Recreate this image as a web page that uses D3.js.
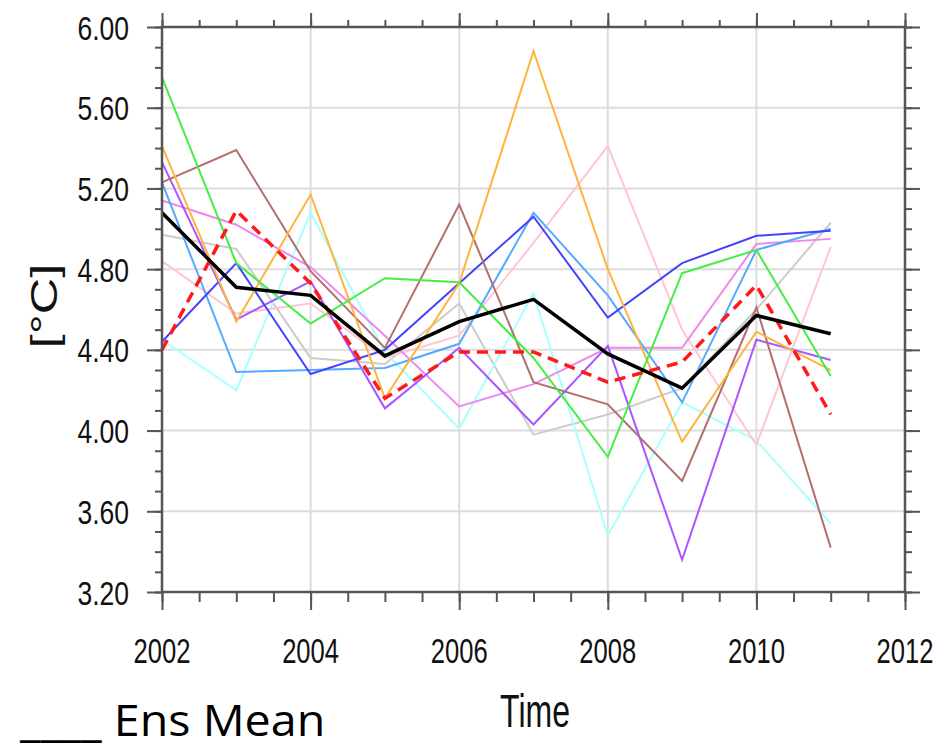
<!DOCTYPE html>
<html>
<head>
<meta charset="utf-8">
<script src="https://cdn.jsdelivr.net/npm/d3@7"></script>
<style>
  html, body { margin: 0; padding: 0; background: #fff; }
  svg { display: block; }
</style>
</head>
<body>
<svg id="chart" width="950" height="752"></svg>
<script>
// ---------------- data ----------------
const years = [2002, 2003, 2004, 2005, 2006, 2007, 2008, 2009, 2010, 2011];
const xTicks = [2002, 2004, 2006, 2008, 2010, 2012];
const yTicks = [3.2, 3.6, 4.0, 4.4, 4.8, 5.2, 5.6, 6.0];

const memberGreen     = [5.75, 4.83, 4.53, 4.755, 4.735, 4.36, 3.87, 4.78, 4.895, 4.27];
const memberOrange    = [5.41, 4.54, 5.17, 4.16, 4.73, 5.88, 4.80, 3.945, 4.49, 4.30];
const memberBrown     = [5.23, 5.39, 4.79, 4.41, 5.12, 4.24, 4.13, 3.75, 4.61, 3.42];
const memberBlue      = [4.44, 4.83, 4.28, 4.40, 4.73, 5.06, 4.56, 4.83, 4.965, 4.99];
const memberLightBlue = [5.23, 4.29, 4.30, 4.31, 4.43, 5.08, 4.67, 4.14, 4.895, 5.00];
const memberPurple    = [5.33, 4.55, 4.74, 4.11, 4.41, 4.03, 4.42, 3.36, 4.45, 4.35];
const memberViolet    = [5.14, 5.02, 4.81, 4.47, 4.12, 4.23, 4.41, 4.41, 4.925, 4.95];
const memberPink      = [4.84, 4.58, 4.63, 4.36, 4.47, 4.93, 5.41, 4.50, 3.93, 4.91];
const memberCyan      = [4.45, 4.20, 5.08, 4.39, 4.01, 4.68, 3.48, 4.14, 3.95, 3.54];
const memberGray      = [4.97, 4.90, 4.36, 4.33, 4.63, 3.98, 4.08, 4.21, 4.60, 5.03];
const redDashed       = [4.40, 5.09, 4.73, 4.16, 4.39, 4.39, 4.24, 4.34, 4.72, 4.08];
const ensMean         = [5.08, 4.71, 4.67, 4.37, 4.54, 4.65, 4.38, 4.21, 4.57, 4.48];

const members = [
  { values: memberGray,      color: "#cccccc" },
  { values: memberCyan,      color: "#aaffff" },
  { values: memberPink,      color: "#ffc6d0" },
  { values: memberViolet,    color: "#ee88ee" },
  { values: memberPurple,    color: "#aa55ff" },
  { values: memberLightBlue, color: "#55aaff" },
  { values: memberBlue,      color: "#4444ff" },
  { values: memberBrown,     color: "#b46e6e" },
  { values: memberOrange,    color: "#ffb43c" },
  { values: memberGreen,     color: "#44ee44" }
];

// ---------------- layout ----------------
const svg = d3.select("#chart");
const L = 162, R = 905, T = 27, B = 592;
const x = d3.scaleLinear().domain([2002, 2012]).range([L, R]);
const y = d3.scaleLinear().domain([3.2, 6.0]).range([B, T]);

const xMinor = d3.range(2002, 2012.01, 0.5);
const yMinor = d3.range(32, 60.5, 1).map(v => v / 10);

// grid
const grid = svg.append("g");
grid.selectAll("line.gx").data(xTicks.slice(1, -1)).join("line")
  .attr("x1", d => x(d)).attr("x2", d => x(d)).attr("y1", T).attr("y2", B)
  .attr("stroke", "#dcdcdc").attr("stroke-width", 2);
grid.selectAll("line.gy").data(yTicks.slice(1, -1)).join("line")
  .attr("y1", d => y(d)).attr("y2", d => y(d)).attr("x1", L).attr("x2", R)
  .attr("stroke", "#dcdcdc").attr("stroke-width", 2);

// lines
const line = d3.line().x((d, i) => x(years[i])).y(d => y(d));
const plot = svg.append("g");
members.forEach(m => {
  plot.append("path").attr("d", line(m.values))
    .attr("fill", "none").attr("stroke", m.color).attr("stroke-width", 2)
    .attr("stroke-linejoin", "miter");
});
plot.append("path").attr("d", line(redDashed))
  .attr("fill", "none").attr("stroke", "#ff1a1a").attr("stroke-width", 3.5)
  .attr("stroke-dasharray", "11,7");
plot.append("path").attr("d", line(ensMean))
  .attr("fill", "none").attr("stroke", "#000").attr("stroke-width", 3.5);

// axes (ticks pointing outward)
function styleAxis(g) {
  g.select(".domain").remove();
  g.selectAll("line").attr("stroke", "#555").attr("stroke-width", 2);
  g.selectAll("text").remove();
}
svg.append("g").attr("transform", `translate(${L},0)`)
  .call(d3.axisLeft(y).tickValues(yMinor).tickSize(7)).call(styleAxis);
svg.append("g").attr("transform", `translate(${L},0)`)
  .call(d3.axisLeft(y).tickValues(yTicks).tickSize(15)).call(styleAxis);
svg.append("g").attr("transform", `translate(${R},0)`)
  .call(d3.axisRight(y).tickValues(yMinor).tickSize(7)).call(styleAxis);
svg.append("g").attr("transform", `translate(${R},0)`)
  .call(d3.axisRight(y).tickValues(yTicks).tickSize(15)).call(styleAxis);
svg.append("g").attr("transform", `translate(0,${B})`)
  .call(d3.axisBottom(x).tickValues(xMinor).tickSize(10)).call(styleAxis);
svg.append("g").attr("transform", `translate(0,${B})`)
  .call(d3.axisBottom(x).tickValues(xTicks).tickSize(18)).call(styleAxis);
svg.append("g").attr("transform", `translate(0,${T})`)
  .call(d3.axisTop(x).tickValues(xMinor).tickSize(7)).call(styleAxis);
svg.append("g").attr("transform", `translate(0,${T})`)
  .call(d3.axisTop(x).tickValues(xTicks).tickSize(14)).call(styleAxis);

// frame
svg.append("rect").attr("x", L).attr("y", T).attr("width", R - L).attr("height", B - T)
  .attr("fill", "none").attr("stroke", "#555").attr("stroke-width", 2.5);

// tick labels
const font = "'Liberation Sans', Arial, Helvetica, sans-serif";
svg.append("g").selectAll("text").data(yTicks).join("text")
  .attr("transform", d => `translate(129,${y(d) + 12.5}) scale(1,1.26)`)
  .attr("text-anchor", "end").attr("font-family", font).attr("font-size", 26.5)
  .attr("fill", "#111").text(d => d.toFixed(2));
svg.append("g").selectAll("text").data(xTicks).join("text")
  .attr("transform", d => `translate(${x(d)},663) scale(1,1.36)`)
  .attr("text-anchor", "middle").attr("font-family", font).attr("font-size", 25.6)
  .attr("fill", "#111").text(d => d);

// axis titles
svg.append("text").attr("transform", "translate(535,727) scale(1,1.45)")
  .attr("text-anchor", "middle").attr("font-family", font).attr("font-size", 32)
  .attr("fill", "#111").text("Time");
svg.append("text").attr("transform", "translate(57,306) rotate(-90) scale(1.4,1)")
  .attr("text-anchor", "middle").attr("font-family", font).attr("font-size", 36)
  .attr("fill", "#111").text("[°C]");

// legend note
svg.append("text").attr("transform", "translate(20,736) scale(1.06,1)")
  .attr("font-family", "'Open Sans', sans-serif").attr("font-size", 44)
  .attr("fill", "#000").text("____ Ens Mean");
</script>
</body>
</html>
